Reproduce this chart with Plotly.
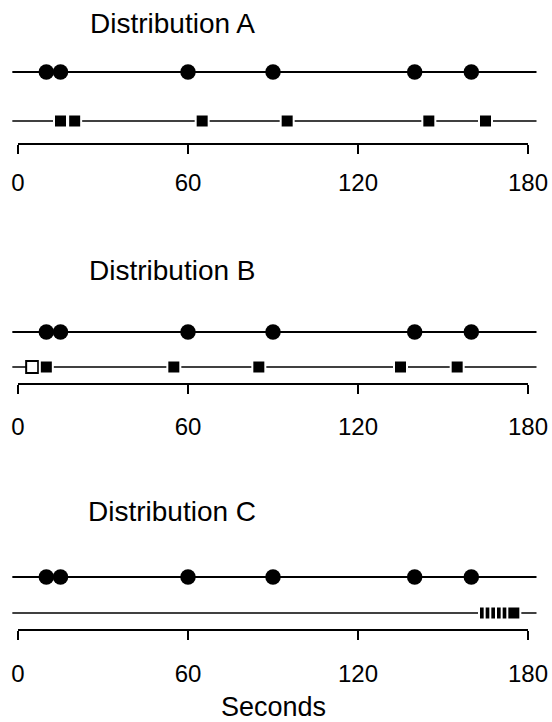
import plotly.graph_objects as go

# ---------------- data (seconds) ----------------
panel_titles = ["Distribution A", "Distribution B", "Distribution C"]
circle_times_A = [10, 15, 60, 90, 140, 160]
square_times_A = [15, 20, 65, 95, 145, 165]
circle_times_B = [10, 15, 60, 90, 140, 160]
square_times_B = [10, 55, 85, 135, 155]
open_square_times_B = [5]
circle_times_C = [10, 15, 60, 90, 140, 160]
square_times_C = [165, 167, 169, 171, 173, 175]
tick_values = [0, 60, 120, 180]
tick_labels = ["0", "60", "120", "180"]
axis_span = [0, 180]
line_span = [-2, 183]
x_title = "Seconds"

circles = [circle_times_A, circle_times_B, circle_times_C]
squares = [square_times_A, square_times_B, square_times_C]
open_squares = [[], open_square_times_B, []]

# ---------------- layout (pixels) ----------------
W, H = 552, 722
AXIS_LEFT_PX, AXIS_RIGHT_PX = 18, 528
# per panel: title y, circle row y, square row y, axis line y, label standoff
panel_px = [
    dict(title=23, circ=72, sq=121, axis=144, standoff=8),
    dict(title=270, circ=332, sq=367, axis=384, standoff=12),
    dict(title=511, circ=577, sq=613, axis=630, standoff=13),
]
TITLE_X_PX = 172
XTITLE_Y_PX = 707
FONT = "Liberation Sans, Arial, sans-serif"

pps = (AXIS_RIGHT_PX - AXIS_LEFT_PX) / (axis_span[1] - axis_span[0])
x_lo = axis_span[0] - AXIS_LEFT_PX / pps
x_hi = x_lo + W / pps

fig = go.Figure()
layout = dict(
    width=W, height=H, margin=dict(l=0, r=0, t=0, b=0),
    paper_bgcolor="white", plot_bgcolor="white", showlegend=False,
    font=dict(family=FONT, color="black"),
)
annotations = []
shapes = []

for i, p in enumerate(panel_px):
    n = "" if i == 0 else str(i + 1)
    xa, ya = "x" + n, "y" + n
    unit = p["sq"] - p["circ"]
    top_px = p["circ"] - 20
    y_bottom = -(p["axis"] - p["sq"]) / unit
    y_top = 1 + (p["circ"] - top_px) / unit
    layout["xaxis" + n] = dict(
        range=[x_lo, x_hi], domain=[0, 1], anchor=ya,
        showgrid=False, zeroline=False, showline=False,
        ticks="outside", ticklen=9, tickwidth=2, tickcolor="black",
        tickvals=tick_values, ticktext=tick_labels,
        tickfont=dict(family=FONT, size=24, color="black"),
        ticklabelstandoff=p["standoff"],
    )
    layout["yaxis" + n] = dict(
        range=[y_bottom, y_top], domain=[1 - p["axis"] / H, 1 - top_px / H],
        anchor=xa, visible=False, showgrid=False, zeroline=False,
    )
    # baseline lines
    fig.add_trace(go.Scatter(x=line_span, y=[1, 1], mode="lines",
                             line=dict(color="black", width=2),
                             xaxis=xa, yaxis=ya, hoverinfo="skip"))
    fig.add_trace(go.Scatter(x=line_span, y=[0, 0], mode="lines",
                             line=dict(color="black", width=1.5),
                             xaxis=xa, yaxis=ya, hoverinfo="skip"))
    # circles
    fig.add_trace(go.Scatter(x=circles[i], y=[1] * len(circles[i]), mode="markers",
                             marker=dict(symbol="circle", size=15.5, color="black",
                                         line=dict(width=0)),
                             cliponaxis=False, xaxis=xa, yaxis=ya))
    # open squares
    if open_squares[i]:
        fig.add_trace(go.Scatter(x=open_squares[i], y=[0] * len(open_squares[i]),
                                 mode="markers",
                                 marker=dict(symbol="square", size=12, color="white",
                                             line=dict(width=2, color="black")),
                                 cliponaxis=False, xaxis=xa, yaxis=ya))
    # filled squares
    fig.add_trace(go.Scatter(x=squares[i], y=[0] * len(squares[i]), mode="markers",
                             marker=dict(symbol="square", size=13, color="black",
                                         line=dict(width=2, color="white")),
                             cliponaxis=False, xaxis=xa, yaxis=ya))
    # axis line 0..180
    shapes.append(dict(type="line", xref=xa, yref=ya + " domain",
                       x0=axis_span[0], x1=axis_span[1], y0=0, y1=0,
                       line=dict(color="black", width=2)))
    annotations.append(dict(text=panel_titles[i], x=TITLE_X_PX / W, y=1 - p["title"] / H,
                            xref="paper", yref="paper", xanchor="center", yanchor="middle",
                            showarrow=False, font=dict(family=FONT, size=28, color="black")))

annotations.append(dict(text=x_title, x=(AXIS_LEFT_PX + AXIS_RIGHT_PX) / 2 / W,
                        y=1 - XTITLE_Y_PX / H, xref="paper", yref="paper",
                        xanchor="center", yanchor="middle", showarrow=False,
                        font=dict(family=FONT, size=27, color="black")))

layout["annotations"] = annotations
layout["shapes"] = shapes
fig.update_layout(**layout)
fig.write_html("out.html")
